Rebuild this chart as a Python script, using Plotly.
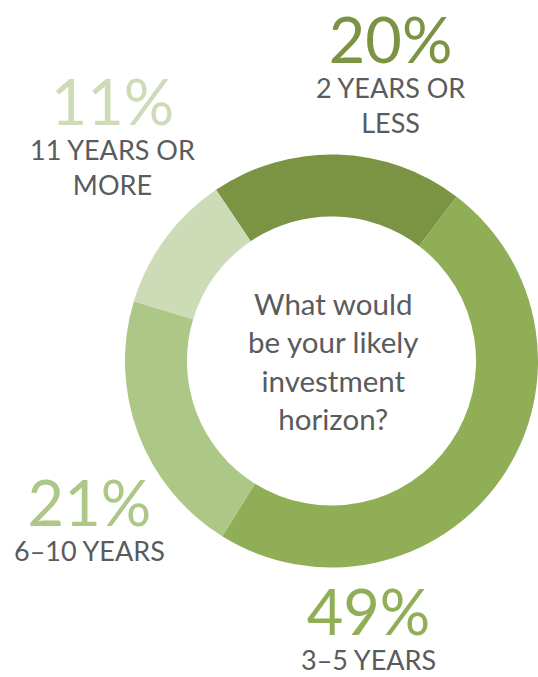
import plotly.graph_objects as go

# Survey responses: likely investment horizon
categories = ["2 YEARS OR LESS", "3–5 YEARS", "6–10 YEARS", "11 YEARS OR MORE"]
shares = [20, 49, 21, 11]
slice_colors = ["#7a9444", "#8fae55", "#adc787", "#cddcb7"]
label_lines = [["2 YEARS OR", "LESS"], ["3–5 YEARS"], ["6–10 YEARS"], ["11 YEARS OR", "MORE"]]
question_lines = ["What would", "be your likely", "investment", "horizon?"]

W, H = 538, 677
FONT = "Lato"
GRAY = "#5a5b5d"

fig = go.Figure(go.Pie(
    labels=categories,
    values=shares,
    hole=0.70,
    sort=False,
    direction="clockwise",
    rotation=-34,
    marker=dict(colors=slice_colors, line=dict(width=0)),
    textinfo="none",
    hoverinfo="label+percent",
    domain=dict(x=[(332 - 207) / W, 1.0], y=[0.161, 0.7725]),
    showlegend=False,
))

# callout boxes: (x centre, y of anchored edge, anchor) in pixels
callout_pos = [(390, 0, "top"), (368, 677, "bottom"), (89, 463, "top"), (112, 62, "top")]

annotations = []
for (cx, yy, anchor), val, col, lines in zip(callout_pos, shares, slice_colors, label_lines):
    big = f"<span style='font-size:63px;color:{col}'>{val}%</span>"
    annotations.append(dict(
        x=cx / W, y=1 - yy / H, xref="paper", yref="paper",
        text="<br>".join([big] + lines), showarrow=False,
        xanchor="center", yanchor=anchor, align="center", borderpad=0,
        font=dict(family=FONT, size=27, color=GRAY),
    ))

# question in the hole of the ring
annotations.append(dict(
    x=333 / W, y=1 - 361 / H, xref="paper", yref="paper",
    text="<br>".join(question_lines), showarrow=False,
    xanchor="center", yanchor="middle", align="center", borderpad=0,
    font=dict(family=FONT, size=29.5, color=GRAY),
))

fig.update_layout(
    width=W, height=H,
    margin=dict(l=0, r=0, t=0, b=0),
    paper_bgcolor="white",
    plot_bgcolor="white",
    annotations=annotations,
)

fig.write_html("out.html")
